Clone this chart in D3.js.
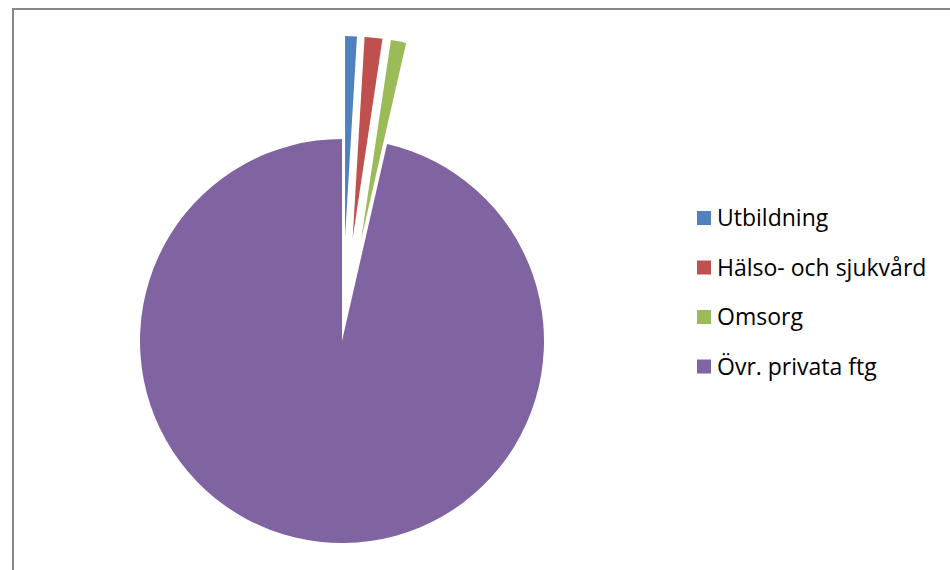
<!DOCTYPE html>
<html>
<head>
<meta charset="utf-8">
<script src="https://cdn.jsdelivr.net/npm/d3@7"></script>
<style>
  html, body { margin: 0; padding: 0; background: #fff; }
  svg { display: block; }
</style>
</head>
<body>
<svg id="chart" width="950" height="570"></svg>
<script>
// Data (share of total, %)
const categories = ["Utbildning", "Hälso- och sjukvård", "Omsorg", "Övr. privata ftg"];
const values = [0.94, 1.42, 1.22, 96.42];
const exploded = [true, true, true, false];
const colors = ["#4F81BD", "#C0504D", "#9BBB59", "#8064A2"];

const svg = d3.select("#chart");

// Chart area border (extends beyond the visible window on right & bottom)
svg.append("rect")
  .attr("x", 13).attr("y", 9)
  .attr("width", 1200).attr("height", 1200)
  .attr("fill", "none").attr("stroke", "#878787").attr("stroke-width", 2);

const cx = 342, cy = 341, r = 202, explodeDist = 103;

const pie = d3.pie().sort(null).value(d => d.v);
const arcs = pie(categories.map((c, i) => ({ c, v: values[i], ex: exploded[i], col: colors[i] })));
const arc = d3.arc().innerRadius(0).outerRadius(r);

const g = svg.append("g").attr("transform", `translate(${cx},${cy})`);
g.selectAll("path").data(arcs).enter().append("path")
  .attr("d", arc)
  .attr("fill", d => d.data.col)
  .attr("transform", d => {
    if (!d.data.ex) return null;
    const a = (d.startAngle + d.endAngle) / 2;
    return `translate(${explodeDist * Math.sin(a)},${-explodeDist * Math.cos(a)})`;
  });

// Legend
const legend = svg.append("g").attr("transform", "translate(697,211)");
const rowH = 49.5;
const items = legend.selectAll("g").data(categories).enter().append("g")
  .attr("transform", (d, i) => `translate(0,${i * rowH})`);
items.append("rect")
  .attr("width", 14).attr("height", 14)
  .attr("fill", (d, i) => colors[i]);
items.append("text")
  .attr("x", 20).attr("y", 15)
  .attr("font-family", "'Open Sans', sans-serif")
  .attr("font-size", 23)
  .attr("fill", "#000")
  .text(d => d);
</script>
</body>
</html>
